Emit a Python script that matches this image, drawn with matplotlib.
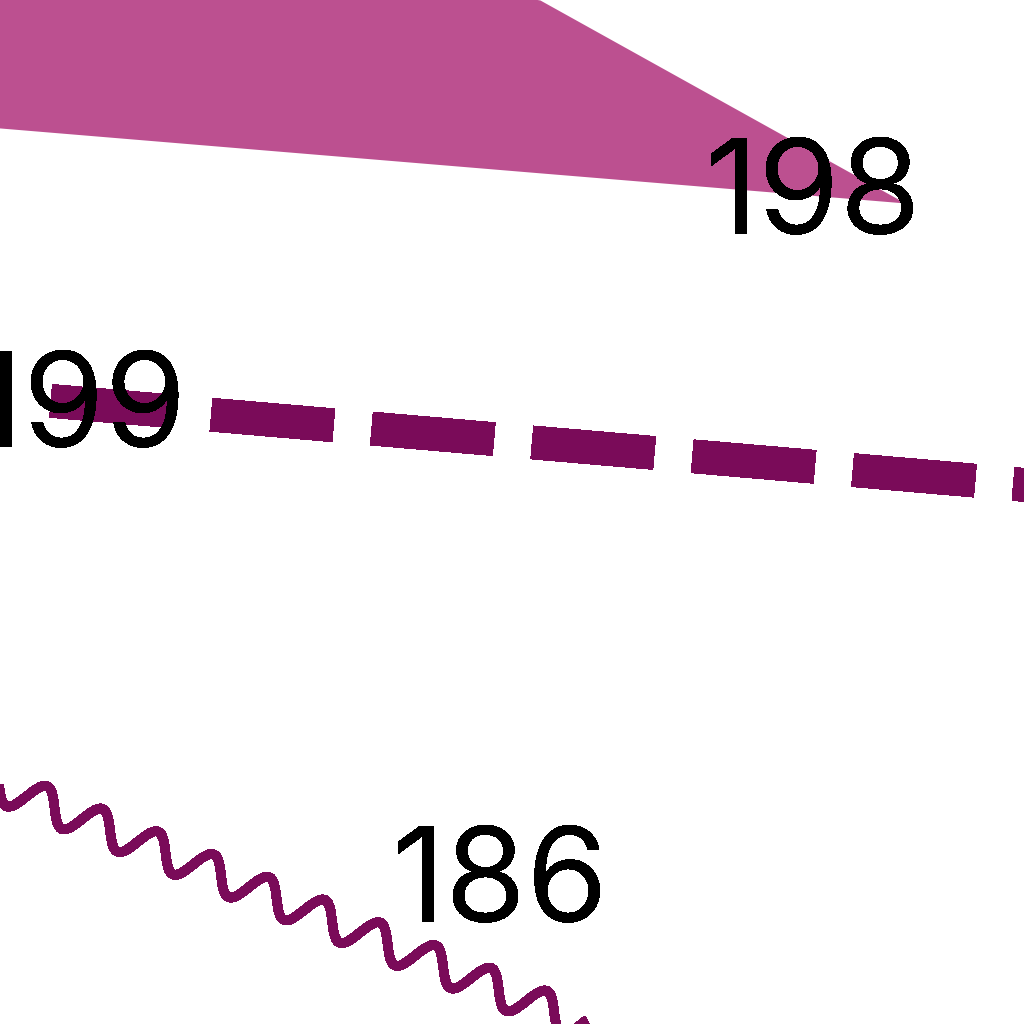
import numpy as np
import matplotlib
matplotlib.use("Agg")
import matplotlib.pyplot as plt

# chart values (fragment of a larger chart, units on a 0-100 grid)
band_x = [-5.86, 52.73, 88.38]
band_upper = [110.0, 100.0, 80.18]
band_lower = [87.99, 83.12, 80.18]

dash_x = [4.98, 107.4]
dash_y = [60.85, 52.01]

wave_x = [-3.91, 68.36]
wave_y = [24.92, -4.69]

labels = ["198", "199", "186"]
label_x = [79.4, 7.7, 48.9]
label_y = [77.1, 56.3, 10.0]

PINK = "#bc5090"
PURPLE = "#7a0b59"

plt.rcParams["text.antialiased"] = False

fig = plt.figure(figsize=(10.24, 10.24), dpi=100)
ax = fig.add_axes([0, 0, 1, 1])
ax.set_xlim(0, 100)
ax.set_ylim(0, 100)
ax.axis("off")

# shaded band narrowing to its end label
ax.fill_between(band_x, band_lower, band_upper, color=PINK, lw=0,
                antialiased=False)

# thick dashed series
ax.plot(dash_x, dash_y, color=PURPLE, lw=24, dashes=(3.67, 1.145),
        dash_capstyle="butt", antialiased=False)

# wavy (sketched) series
wave, = ax.plot(wave_x, wave_y, color=PURPLE, lw=6.5, antialiased=False,
                solid_capstyle="butt")
wave.set_sketch_params(scale=17, length=60, randomness=1.0)

for txt, x, y in zip(labels, label_x, label_y):
    ax.text(x, y, txt, ha="center", va="baseline", fontsize=95,
            family=["Inter", "DejaVu Sans"], color="black")

fig.savefig("out.png", dpi=100)
